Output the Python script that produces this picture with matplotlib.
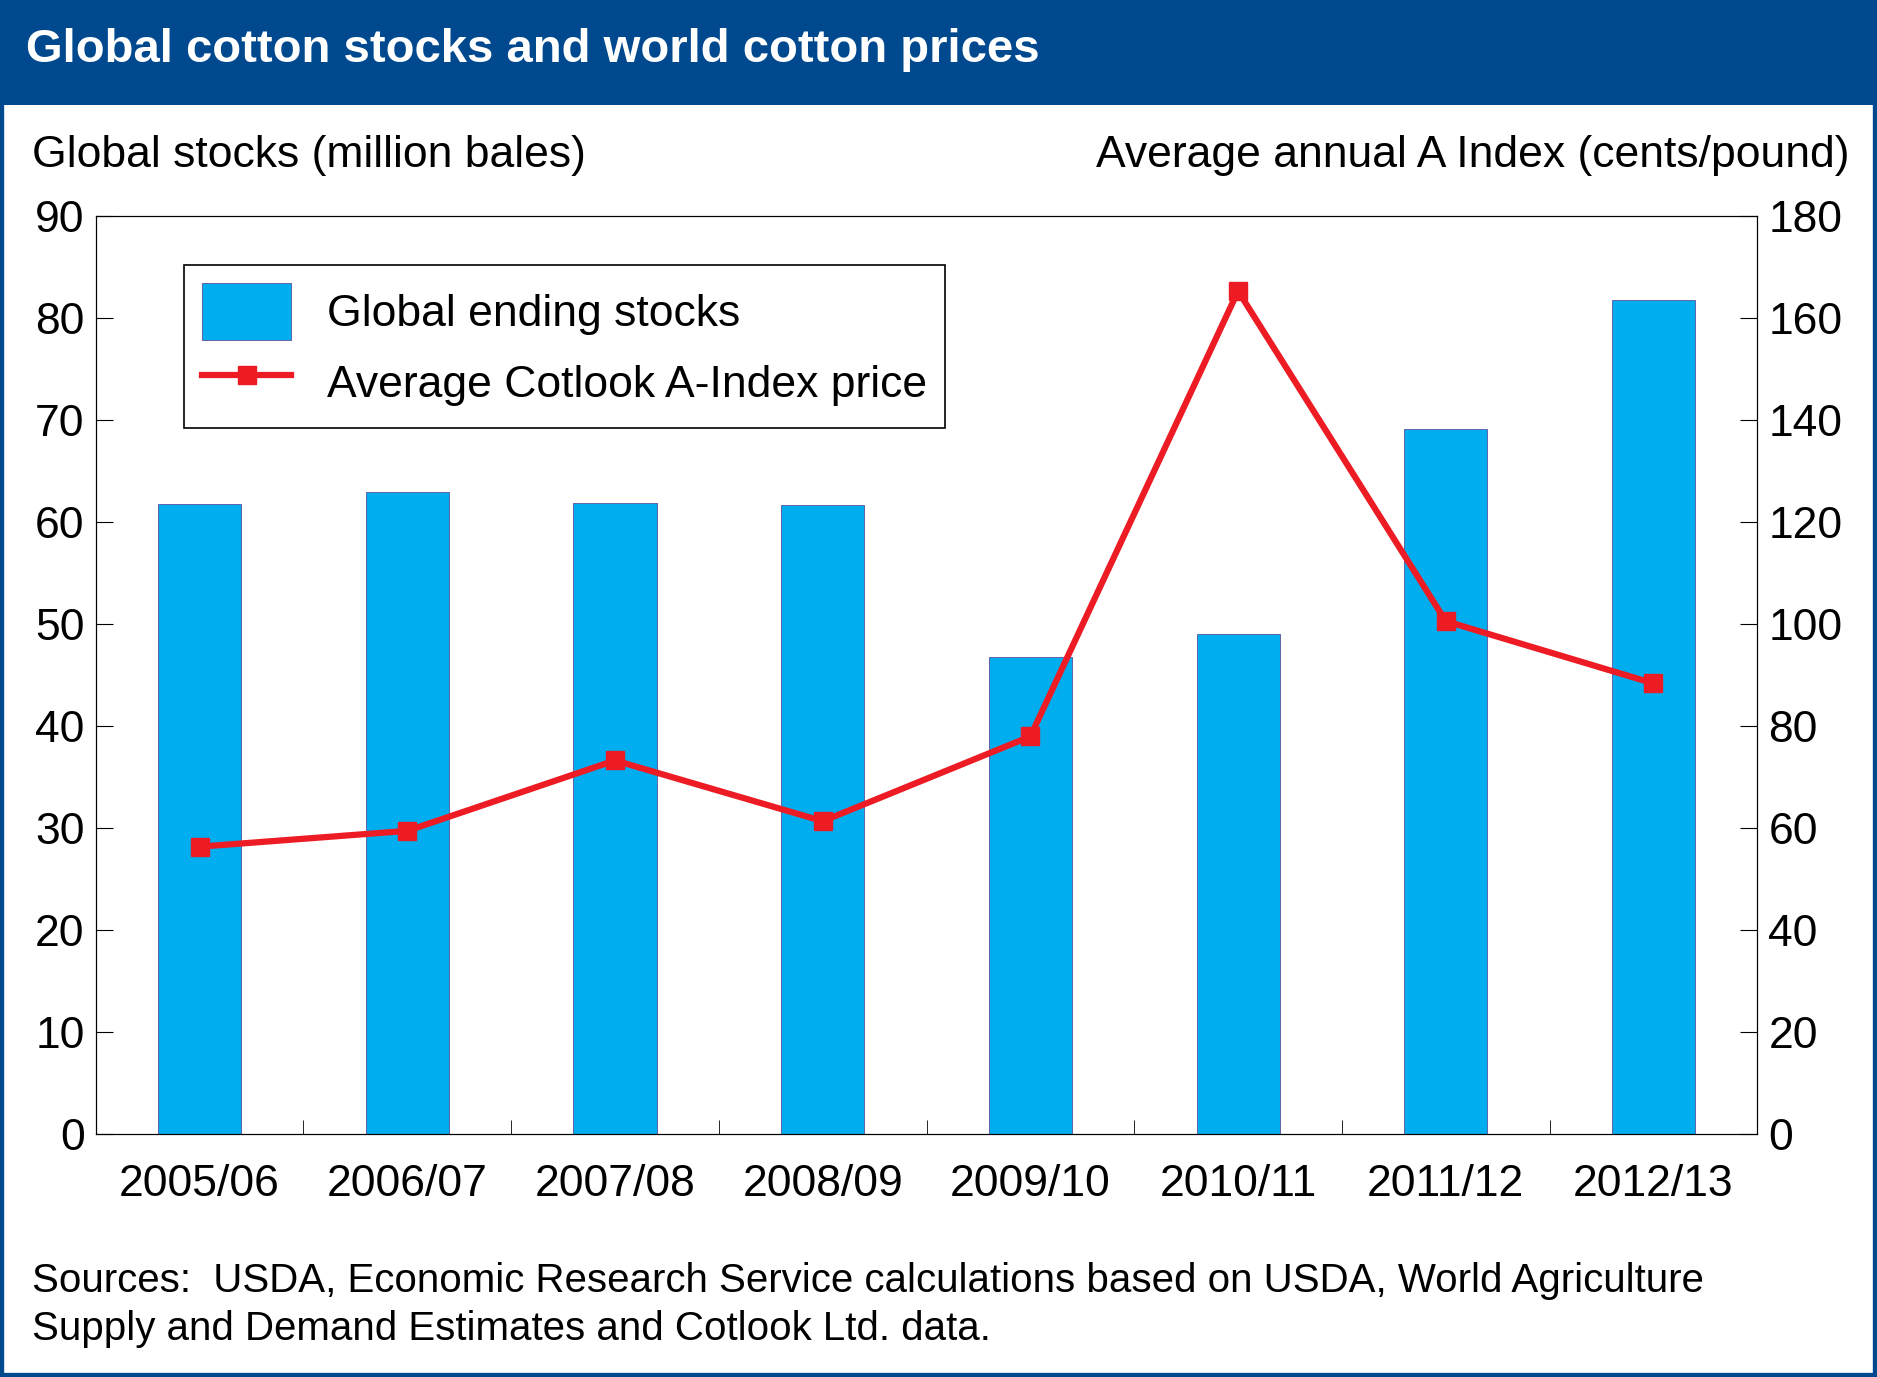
import numpy as np
import matplotlib.pyplot as plt
from matplotlib.patches import Rectangle

plt.rcParams['font.family'] = ['Liberation Sans', 'DejaVu Sans']

years = ["2005/06", "2006/07", "2007/08", "2008/09", "2009/10", "2010/11", "2011/12", "2012/13"]
stocks = [61.7, 62.9, 61.8, 61.6, 46.7, 49.0, 69.1, 81.7]
prices = [56.3, 59.4, 73.2, 61.3, 77.9, 165.2, 100.5, 88.3]

blue = '#00498f'
fig = plt.figure(figsize=(18.77, 13.77), dpi=100)
fig.patches.append(Rectangle((0, 0), 1, 1, transform=fig.transFigure, fill=False,
                             edgecolor=blue, linewidth=6))
fig.patches.append(Rectangle((0, 1 - 88/1150), 1, 88/1150, transform=fig.transFigure,
                             facecolor=blue, edgecolor='none'))
fig.text(0.014, 1 - 42/1150, "Global cotton stocks and world cotton prices", color='white',
         fontsize=34, fontweight='bold', va='center')

ax = fig.add_axes([80/1568, 1 - 947/1150, (1468-80)/1568, (947-180)/1150])
x = np.arange(len(years))
ax.bar(x, stocks, width=0.4, color='#00aeef', edgecolor='#5b4fa0', linewidth=0.6,
       label='Global ending stocks', zorder=2)
ax.set_ylim(0, 90)
ax.set_xlim(-0.5, len(years) - 0.5)
ax.set_yticks(range(0, 91, 10))
ax.set_xticks(x)
ax.set_xticklabels(years)
ax.set_xticks(np.arange(-0.5, len(years), 1), minor=True)
ax.tick_params(axis='x', which='major', length=0, labelsize=32, pad=22)
ax.tick_params(axis='x', which='minor', direction='in', length=10)
ax.tick_params(axis='y', direction='in', length=12, labelsize=32, pad=8)

ax2 = ax.twinx()
ax2.plot(x, prices, color='#ed1c24', lw=4.5, marker='s', markersize=13,
         label='Average Cotlook A-Index price', zorder=3)
ax2.set_ylim(0, 180)
ax2.set_yticks(range(0, 181, 20))
ax2.tick_params(axis='y', direction='in', length=12, labelsize=32, pad=8)

fig.text(27/1568, 1 - 130/1150, "Global stocks (million bales)", fontsize=32, va='center')
fig.text(1545/1568, 1 - 130/1150, "Average annual A Index (cents/pound)", fontsize=32,
         va='center', ha='right')

h1, l1 = ax.get_legend_handles_labels()
h2, l2 = ax2.get_legend_handles_labels()
leg = ax2.legend(h1 + h2, l1 + l2, loc='upper left', bbox_to_anchor=(0.04, 0.97),
                 fontsize=32, fancybox=False, edgecolor='black', framealpha=1,
                 handlelength=2.0, handleheight=1.6, borderpad=0.4, labelspacing=0.3)
leg.get_frame().set_linewidth(1.2)

fig.text(27/1568, 1 - 1070/1150, "Sources:  USDA, Economic Research Service calculations based on USDA, World Agriculture",
         fontsize=29, va='center')
fig.text(27/1568, 1 - 1110/1150, "Supply and Demand Estimates and Cotlook Ltd. data.",
         fontsize=29, va='center')

fig.savefig('out.png', dpi=100)
